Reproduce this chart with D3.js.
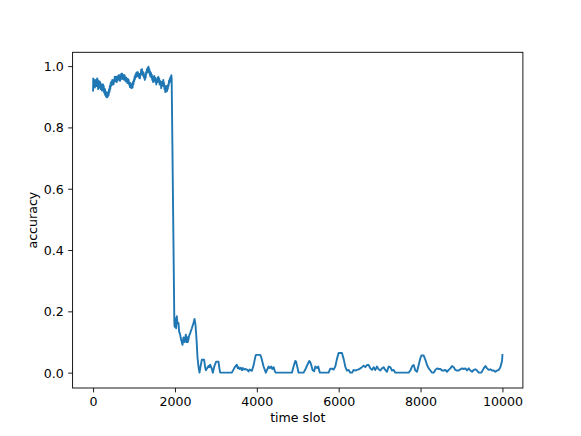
<!DOCTYPE html>
<html>
<head>
<meta charset="utf-8">
<script src="https://cdn.jsdelivr.net/npm/d3@7"></script>
<style>
  html, body { margin: 0; padding: 0; background: #fff; }
  svg { display: block; }
  text { font-family: "DejaVu Sans", sans-serif; fill: #000; }
</style>
</head>
<body>
<svg id="chart" width="581" height="436"></svg>
<script>
// ---- data: [time slot, accuracy] ----
const stablePhase = [
  [0,.92],[5,.96],[12,.94],[20,.955],[28,.935],[36,.95],[44,.93],[52,.955],[60,.935],[68,.95],[76,.94],[84,.955],[92,.935],[100,.96],[108,.94],[116,.955],[124,.925],[132,.945],[140,.93],[148,.95],
  [156,.935],[164,.95],[172,.93],[180,.945],[188,.925],[196,.94],[204,.93],[212,.935],[220,.92],[228,.94],[236,.925],[244,.94],[252,.925],[260,.935],[268,.915],[276,.925],[284,.91],[292,.925],[300,.905],[310,.915],
  [320,.9],[330,.915],[340,.898],[350,.912],[360,.9],[370,.915],[380,.905],[390,.925],[400,.915],[410,.935],[420,.925],[430,.945],[440,.935],[450,.95],[460,.94],[470,.955],[480,.94],[490,.95],[500,.94],[510,.955],
  [520,.95],[530,.965],[540,.95],[550,.965],[560,.955],[570,.965],[580,.948],[590,.962],[600,.955],[610,.968],[620,.955],[630,.97],[640,.96],[650,.97],[660,.952],[670,.965],[680,.958],[690,.975],[700,.96],[710,.975],
  [720,.958],[730,.972],[740,.96],[750,.97],[760,.955],[770,.97],[780,.958],[790,.965],[800,.95],[810,.962],[820,.952],[830,.958],[840,.945],[850,.958],[860,.945],[870,.955],[880,.94],[890,.945],[900,.932],[910,.945],
  [920,.93],[930,.94],[945,.928],[955,.942],[965,.93],[975,.948],[985,.94],[995,.955],[1005,.95],[1015,.965],[1025,.958],[1035,.972],[1045,.965],[1055,.978],[1065,.965],[1075,.98],[1085,.97],[1095,.98],[1105,.968],[1115,.975],
  [1125,.962],[1135,.972],[1145,.96],[1155,.975],[1165,.97],[1175,.988],[1185,.978],[1195,.99],[1205,.975],[1215,.982],[1225,.968],[1235,.978],[1245,.962],[1255,.97],[1265,.955],[1275,.97],[1285,.962],[1295,.98],[1305,.975],[1315,.99],
  [1325,.98],[1335,.995],[1345,.985],[1355,.998],[1365,.98],[1375,.99],[1385,.972],[1395,.982],[1405,.965],[1415,.978],[1425,.965],[1435,.972],[1445,.955],[1455,.965],[1465,.948],[1475,.96],[1485,.955],[1495,.968],[1505,.952],[1515,.962],
  [1525,.948],[1535,.958],[1545,.94],[1555,.955],[1565,.95],[1575,.962],[1585,.948],[1595,.965],[1605,.952],[1615,.96],[1625,.94],[1635,.952],[1645,.94],[1655,.948],[1665,.928],[1675,.942],[1685,.935],[1695,.95],[1705,.945],[1715,.955],
  [1725,.935],[1735,.945],[1745,.925],[1755,.935],[1765,.915],[1775,.93],[1785,.925],[1795,.935],[1805,.918],[1815,.932],[1825,.925],[1835,.94],[1845,.935],[1855,.952],[1865,.945],[1875,.96],[1885,.95],[1895,.965],[1905,.95],[1912,.97],[1920,.96]
];
const dropPhase = [
  [1985,.165],[1992,.15],[2005,.178],[2018,.16],[2029,.145],[2045,.184],[2062,.16],[2086,.162],[2103,.134],[2127,.124],[2152,.107],[2184,.091],[2209,.115],[2233,.1],[2266,.124],[2282,.1],[2298,.116],[2315,.1],[2347,.12],[2372,.129],
  [2413,.145],[2453,.162],[2478,.175],[2502,.156],[2527,.11],[2551,.05],[2575,.02],[2600,0]
];
const lowPhase = [
  [2625,.02],[2657,.042],[2714,.042],[2735,.02],[2755,.008],[2790,.015],[2820,.022],[2840,.018],[2860,.026],[2880,.02],[2902,.012],[2926,0],[2960,.02],[3007,.036],[3064,.036],[3085,.015],[3105,0],[3390,0],[3430,.01],[3472,.02],
  [3512,.026],[3535,.014],[3553,.018],[3580,.012],[3610,.016],[3635,.008],[3660,.015],[3690,.01],[3716,.012],[3760,.01],[3798,.004],[3820,.01],[3850,.008],[3879,.006],[3920,.023],[3961,.05],[3977,.058],[4083,.058],[4108,.05],[4165,.02],
  [4220,0],[4260,.012],[4290,.02],[4320,.015],[4350,.02],[4380,.012],[4410,.018],[4440,.005],[4460,0],[4857,0],[4898,.02],[4939,.038],[4960,.036],[4990,.018],[5020,0],[5143,0],[5190,.012],[5224,.022],[5281,.038],[5300,.036],
  [5330,.025],[5363,.008],[5400,.005],[5430,.02],[5470,.015],[5500,.02],[5540,0],[5754,0],[5795,.013],[5836,.013],[5876,.01],[5917,.02],[5958,.045],[5998,.064],[6080,.064],[6121,.045],[6161,.02],[6202,.007],[6243,.009],[6284,0],
  [6325,0],[6365,.009],[6406,.007],[6447,.009],[6488,.011],[6528,.014],[6569,.018],[6610,.023],[6650,.018],[6691,.025],[6732,.025],[6773,.014],[6813,.009],[6854,.018],[6895,.009],[6935,.02],[6976,.011],[7017,.007],[7058,.014],[7098,.018],
  [7139,.009],[7180,.003],[7221,.02],[7261,.018],[7302,.007],[7343,.009],[7384,0],[7710,0],[7750,.007],[7791,.02],[7832,.025],[7873,.007],[7913,.003],[7954,.025],[7995,.047],[8020,.056],[8077,.056],[8117,.042],[8158,.025],[8199,.014],
  [8240,.007],[8280,0],[8321,0],[8362,.009],[8403,.014],[8443,.012],[8484,.012],[8525,.007],[8565,.007],[8606,.009],[8647,.003],[8688,.009],[8728,.014],[8769,.022],[8810,.018],[8851,.009],[8891,.007],[8932,.007],[8973,.011],[9013,.014],
  [9054,.012],[9095,.014],[9136,.007],[9176,.014],[9217,.007],[9258,.003],[9298,.009],[9339,.011],[9380,.007],[9421,0],[9486,0],[9543,.014],[9584,.022],[9624,.014],[9665,.009],[9706,.011],[9747,.007],[9788,.007],[9828,.003],[9869,.007],
  [9910,.009],[9950,.018],[9991,.039],[10000,.058]
];
const xTicks = [0, 2000, 4000, 6000, 8000, 10000];
const yTicks = [0.0, 0.2, 0.4, 0.6, 0.8, 1.0];
const xLabel = "time slot";
const yLabel = "accuracy";

// ---- layout ----
const plot = { x0: 72.6, x1: 522.9, y0: 52.3, y1: 388 };
const fontPx = 12.6;

const svg = d3.select("#chart");

const xScale = d3.scaleLinear().domain([-500, 10500]).range([plot.x0, plot.x1]);
const yScale = d3.scaleLinear().domain([-0.05, 1.045]).range([plot.y1, plot.y0]);

const data = stablePhase.concat(dropPhase, lowPhase).map(([t, v]) => ({ t, v }));

// line
const lineGen = d3.line().x(d => xScale(d.t)).y(d => yScale(d.v));
svg.append("path")
  .datum(data)
  .attr("d", lineGen)
  .attr("fill", "none")
  .attr("stroke", "#1f77b4")
  .attr("stroke-width", 1.9)
  .attr("stroke-linejoin", "round")
  .attr("stroke-linecap", "square");

// axes
const xAxis = d3.axisBottom(xScale).tickValues(xTicks).tickFormat(d3.format("d"))
  .tickSize(4.4).tickPadding(4.4);
const yAxis = d3.axisLeft(yScale).tickValues(yTicks).tickFormat(d3.format(".1f"))
  .tickSize(4.4).tickPadding(4.4);

const gx = svg.append("g").attr("transform", `translate(0,${plot.y1})`).call(xAxis);
const gy = svg.append("g").attr("transform", `translate(${plot.x0},0)`).call(yAxis);

[gx, gy].forEach(g => {
  g.select(".domain").remove();
  g.selectAll(".tick line").attr("stroke", "#000").attr("stroke-width", 0.9);
  g.selectAll(".tick text")
    .attr("font-family", "DejaVu Sans, sans-serif")
    .attr("font-size", fontPx)
    .attr("fill", "#000");
});
gx.selectAll(".tick text").attr("dy", "0.71em");
gy.selectAll(".tick text").attr("dy", "0.35em");

// frame
svg.append("rect")
  .attr("x", plot.x0).attr("y", plot.y0)
  .attr("width", plot.x1 - plot.x0).attr("height", plot.y1 - plot.y0)
  .attr("fill", "none").attr("stroke", "#000").attr("stroke-width", 0.9);

// axis labels
svg.append("text")
  .attr("x", (plot.x0 + plot.x1) / 2).attr("y", 422)
  .attr("text-anchor", "middle")
  .attr("font-size", fontPx)
  .text(xLabel);

svg.append("text")
  .attr("transform", `translate(36.5,${(plot.y0 + plot.y1) / 2}) rotate(-90)`)
  .attr("text-anchor", "middle")
  .attr("font-size", fontPx)
  .text(yLabel);
</script>
</body>
</html>
